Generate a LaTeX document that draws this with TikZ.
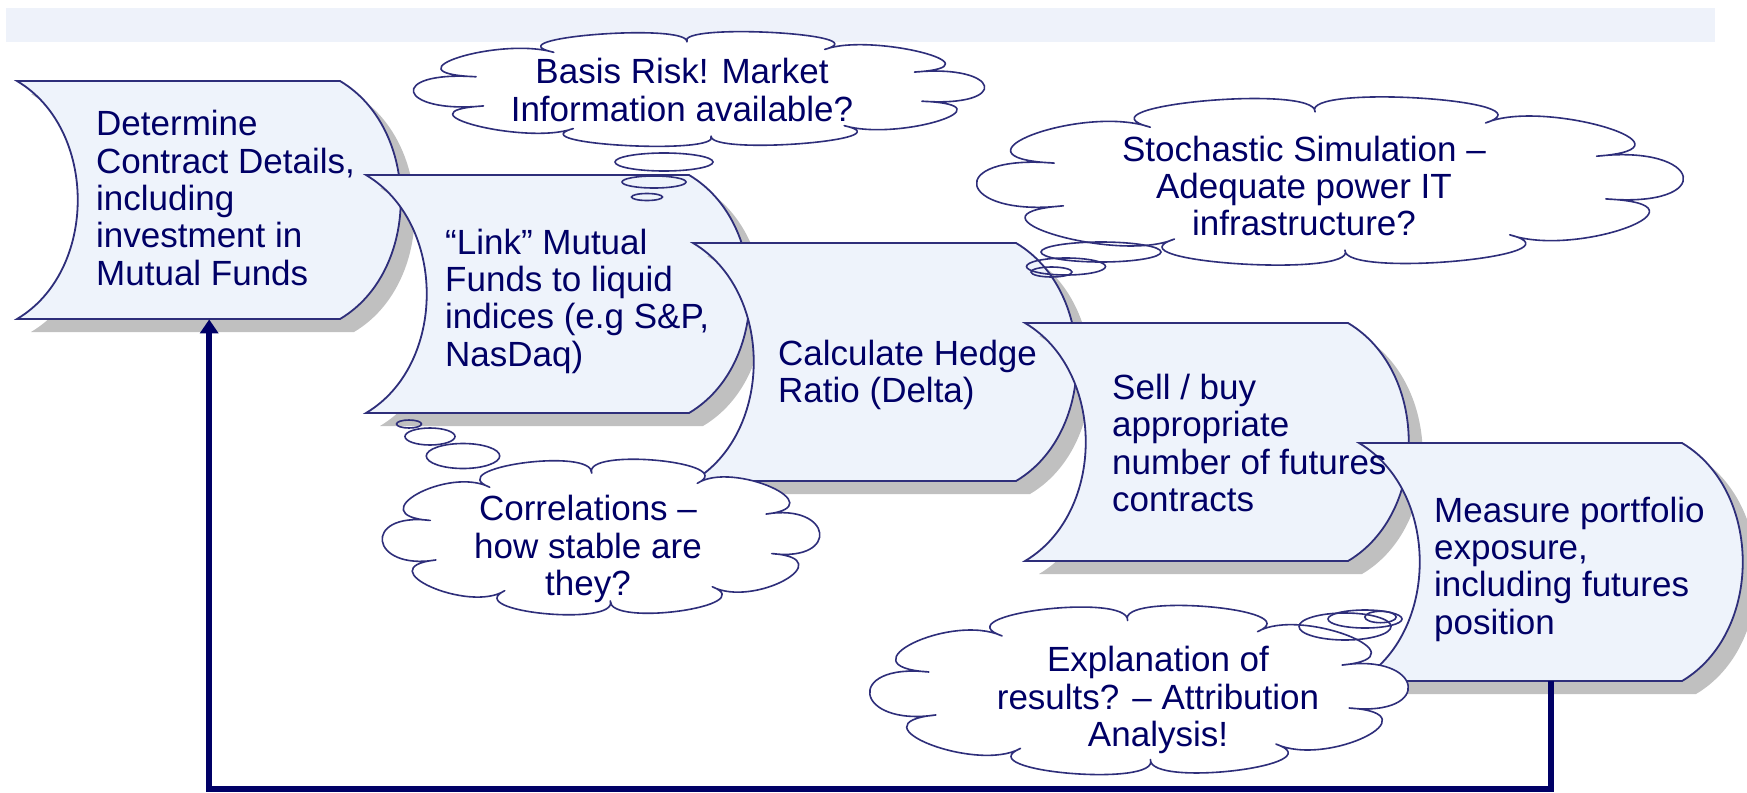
\documentclass[tikz,border=0pt]{standalone}
\usepackage{fontspec}
\setmainfont{Liberation Sans}
\usetikzlibrary{arrows.meta,backgrounds,shadows}

\definecolor{navy}{HTML}{000066}
\definecolor{edge}{HTML}{2E2E7A}
\definecolor{paper}{HTML}{EEF3FB}
\definecolor{band}{HTML}{EEF2FA}
\definecolor{shade}{HTML}{C0C0C0}

\tikzset{
    stepbox/.style={rectangle,inner sep=0pt,minimum width=384pt,minimum height=238pt,anchor=north west},
    steptext/.style={anchor=west,inner sep=0pt,align=left,text=navy,font=\fontsize{35}{37.3}\selectfont},
    scrollline/.style={fill=paper,draw=edge,line width=1.8pt,
        drop shadow={shadow xshift=14pt,shadow yshift=-13pt,fill=shade,opacity=1}},
    thought/.style={draw=edge,fill=white,line width=1.6pt,line join=round},
    thoughttext/.style={align=center,text=navy,font=\fontsize{35}{37.3}\selectfont},
    bubble/.style={draw=edge,line width=1.6pt},
    flow/.style={draw=navy,line width=6pt,-{Triangle[length=14pt,width=18pt]}},
    pics/puffcloud/.style={code={
        \draw[thought] (15:0.8)
            \foreach \i [evaluate=\i as \a using 15+36*\i, evaluate=\i as \b using 51+36*\i] in {0,...,9} {
                .. controls ({0.8*cos(\a)+0.496*(sin(\b)-sin(\a))-0.2*(cos(\b)-cos(\a))},
                             {0.8*sin(\a)-0.496*(cos(\b)-cos(\a))-0.2*(sin(\b)-sin(\a))})
                and ({0.8*cos(\b)+0.496*(sin(\b)-sin(\a))+0.2*(cos(\b)-cos(\a))},
                     {0.8*sin(\b)-0.496*(cos(\b)-cos(\a))+0.2*(sin(\b)-sin(\a))}) .. (\b:0.8)
            } -- cycle;
    }}
}

\begin{document}
\begin{tikzpicture}[x=1pt,y=-1pt]

    % Background
    \useasboundingbox (0,0) rectangle (1747,792);
    \begin{scope}[on background layer]
        \fill[white] (0,0) rectangle (1747,792);
        \fill[band] (6,8) rectangle (1715,42);
    \end{scope}

    % Steps
    \foreach \name/\x/\y/\tx/\ty/\txt in {
        determine/17/81/96/198/{Determine\\Contract Details,\\including\\investment in\\Mutual Funds},
        link/366/175/445/301/{“Link” Mutual\\Funds to liquid\\indices (e.g S\&P,\\NasDaq)},
        hedge/693/243/778/375/{Calculate Hedge\\Ratio (Delta)},
        trade/1025/323/1112/443/{Sell / buy\\appropriate\\number of futures\\contracts},
        measure/1359/443/1434/569/{Measure portfolio\\exposure,\\including futures\\position}} {
        \node[stepbox] (\name) at (\x,\y) {};
        \node[steptext] (\name-text) at (\tx,\ty) {\txt};
        \begin{scope}[on background layer]
            \filldraw[scrollline] (\x,\y) -- ({\x+323},\y)
                .. controls ({\x+404},{\y+48}) and ({\x+404},{\y+190}) .. ({\x+323},{\y+238})
                -- (\x,{\y+238})
                .. controls ({\x+81},{\y+190}) and ({\x+81},{\y+48}) .. cycle;
        \end{scope}
    }

    % Thoughts
    \pic[xscale=288.5,yscale=59] (basis) at (699,89) {puffcloud};
    \node[thoughttext] (basis-text) at (682,90) {Basis Risk! Market\\Information available?};
    \pic[xscale=357,yscale=86.5] (stochastic) at (1330,181) {puffcloud};
    \node[thoughttext] (stochastic-text) at (1304,186) {Stochastic Simulation –\\Adequate power IT\\infrastructure?};
    \pic[xscale=221,yscale=80] (correl) at (601,537) {puffcloud};
    \node[thoughttext] (correl-text) at (588,549) {Correlations –\\how stable are\\they?};
    \pic[xscale=272,yscale=87] (explain) at (1139,690) {puffcloud};
    \node[thoughttext] (explain-text) at (1158,700) {Explanation of\\results? – Attribution\\Analysis!};

    % Bubbles
    \foreach \cx/\cy/\rx/\ry in {664/162/49pt/9pt,654/182/32pt/6pt,647/197/15.5pt/3.5pt,
        1101/252/60pt/10pt,1066/266.5/39.5pt/8.5pt,1051.5/272/20.5pt/5pt,
        409/424/12.5pt/4pt,430/436.5/25pt/8.5pt,463/456/36.7pt/12.5pt,
        1345/626.5/46pt/13.5pt,1365/619/37pt/9pt,1380.5/617/15.7pt/5.7pt}
        \draw[bubble] (\cx,\cy) ellipse [x radius=\rx,y radius=\ry];

    % Feedback
    \draw[flow] (measure.south) -- ++(0,108) -| (determine.south);

\end{tikzpicture}
\end{document}
